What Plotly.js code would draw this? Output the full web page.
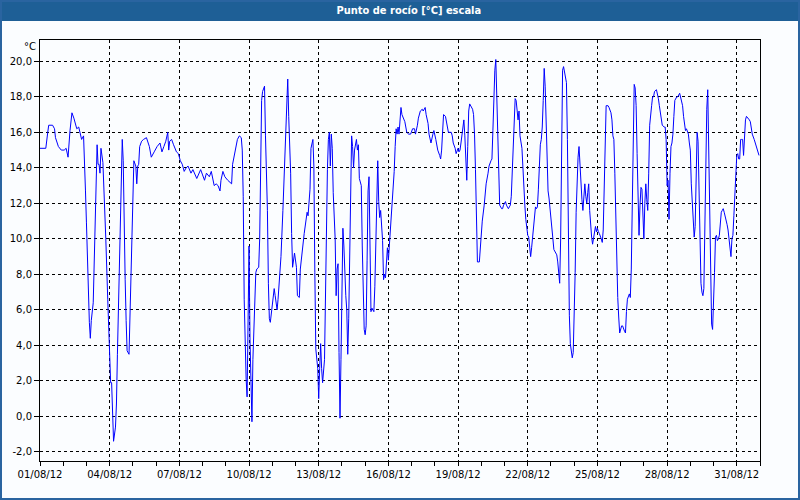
<!DOCTYPE html>
<html>
<head>
<meta charset="utf-8">
<script src="https://cdn.plot.ly/plotly-3.0.1.min.js"></script>
<style>
html,body{margin:0;padding:0;background:#fbfdff;}
#chart{width:800px;height:500px;}
</style>
</head>
<body>
<div id="chart"></div>
<script>
// Hours elapsed since 01/08/12 00:00
const hours = [
0,6,8,9,13,15,16,19,22,25,27,29,31,33,35,38,40,42,43,45,46,47,48,49,50,51,52,53,55,56,57,58,59,60,61,62,63,65,66,68,70,71,72,73,74,75,76,78,79,80,81,82,83,84,85,86,87,88,89,90,92,93,94,95,96,97,99,100,101,102,103,105,107,110,113,115,118,121,124,126,128,130,132,133,134,136,138,141,143,145,147,
149,151,153,156,158,162,164,166,168,170,172,175,177,180,182,184,186,187,189,191,194,198,199,201,202,204,206,208,209,210,211,212,213,214,215,216,217,218,219,220,221,222,223,224,226,227,228,229,230,232,233,235,236,237,238,239,241,242,243,245,246,248,249,251,253,254,255,256,257,259,260,261,263,265,266,268,269,271,273,276,277,279,280,282,283,284,285,287,288,289,290,291,292,294,295,296,
297,298,299,300,301,302,303,305,306,307,308,309,310,311,312,313,314,315,316,317,318,319,320,321,322,323,324,325,327,328,329,330,332,333,334,335,336,337,338,339,340,341,342,343,345,346,347,348,349,350,351,352,354,355,356,357,358,359,360,361,362,364,365,366,367,368,369,370,371,372,373,374,376,377,379,381,383,385,387,388,390,391,393,395,396,398,399,401,402,403,404,406,407,409,410,411,413,414,415,416,417,419,420,421,422,425,426,427,429,430,432,433,434,435,437,438,439,440,441,442,443,444,446,
447,448,449,450,451,452,454,455,456,457,459,460,461,463,464,466,467,468,469,470,471,472,473,474,475,477,478,479,481,482,484,485,486,487,488,490,491,492,493,494,495,496,498,499,500,501,502,503,504,505,506,507,508,509,511,512,513,514,515,516,517,518,519,520,521,522,523,524,525,526,527,528,529,530,531,533,534,535,536,537,538,539,540,541,542,543,544,545,546,547,548,549,550,551,552,553,554,555,556,557,558,559,560,561,562,563,564,565,566,567,568,569,570,571,572,573,574,575,576,577,578,580,581,582,583,584,585,587,588,590,591,592,
593,594,595,596,597,598,599,601,602,604,605,606,607,609,610,611,612,613,614,615,616,617,618,619,620,621,622,623,624,625,626,627,628,629,630,632,633,634,635,637,638,639,640,642,643,645,646,647,648,649,650,651,652,653,654,655,656,658,659,661,662,664,665,666,667,668,670,671,672,673,674,675,676,677,678,679,680,681,682,683,684,685,686,687,688,689,690,691,692,693,694,695,696,697,698,699,700,701,702,703,704,705,706,707,708,709,710,711,712,713,714,715,716,717,718,719,720,721,722,723,724,725,726,727,728,729,730,732,733,734,735,736,738,739,740,742,743
];
// Dew point, °C
const dewPoint = [
15.1,15.1,16.0,16.4,16.4,16.2,15.7,15.2,15.0,15.0,15.1,14.6,16.1,17.1,16.8,16.2,16.3,15.9,15.6,15.8,14.6,12.7,10.9,8.9,6.7,5.3,4.4,5.4,6.4,8.9,10.9,14.2,15.3,14.2,14.2,13.7,15.1,14.3,12.4,10.0,6.6,5.3,3.8,1.9,1.9,0.0,-1.4,-0.6,0.7,3.5,6.3,7.7,11.1,14.7,15.6,14.4,9.5,7.7,5.4,3.7,3.5,5.8,7.5,10.9,13.5,14.4,14.1,13.1,14.1,14.2,15.2,15.5,15.6,15.7,15.2,14.6,14.9,15.2,15.4,14.9,15.2,15.5,16.0,15.0,15.5,15.6,15.3,14.9,14.8,14.4,14.2,
13.8,14.0,14.1,13.7,13.9,13.4,13.7,13.9,13.6,13.3,13.7,13.5,13.8,13.0,13.1,13.0,12.7,13.3,13.8,13.5,13.3,13.1,14.2,14.8,15.1,15.6,15.8,15.7,15.0,12.4,6.6,3.4,2.1,1.1,5.3,9.6,4.3,1.3,-0.3,3.2,5.3,6.2,8.1,8.3,8.4,10.0,14.6,17.8,18.3,18.6,15.8,11.6,7.5,5.5,5.3,5.8,7.0,7.2,6.8,6.0,6.6,8.3,9.0,11.6,14.6,16.7,18.5,19.0,16.9,13.7,10.3,8.4,9.2,8.4,6.8,6.7,8.3,9.4,10.3,11.5,11.3,12.8,15.1,15.6,14.1,8.1,3.8,2.7,1.0,2.7,4.1,2.7,1.9,3.2,7.3,11.5,
13.9,15.6,16.0,14.1,15.9,15.1,12.6,10.0,6.8,8.3,8.6,3.6,-0.1,3.2,6.4,10.6,9.6,7.7,6.8,6.0,3.5,5.5,10.0,12.8,15.8,15.2,14.0,15.0,15.6,15.0,15.3,13.4,13.0,9.6,7.3,4.9,4.6,5.1,8.8,12.7,13.5,9.6,5.9,6.1,5.9,7.3,9.7,13.7,14.4,12.1,11.2,11.6,9.9,7.7,8.0,7.8,8.7,9.5,8.8,9.6,10.5,11.6,12.7,13.8,15.2,16.2,15.9,16.3,15.9,17.0,17.4,17.0,16.7,16.6,16.0,15.9,15.9,16.2,16.2,15.9,16.4,16.8,17.2,17.3,17.2,17.4,17.0,16.5,15.9,15.7,15.4,15.9,16.1,15.6,15.3,15.0,14.7,14.5,15.0,16.1,17.0,16.9,16.6,16.2,16.0,16.0,15.8,15.4,15.1,14.8,15.1,14.9,15.0,15.4,16.1,16.7,15.8,14.6,13.3,15.2,17.2,17.6,17.4,
17.3,17.0,15.9,13.9,10.9,8.7,8.7,9.5,10.4,11.0,11.9,12.4,13.1,13.7,14.1,14.4,14.5,16.1,18.4,19.5,20.1,18.0,16.0,13.5,11.9,11.7,11.7,11.9,12.1,11.9,11.7,11.8,11.9,12.4,14.1,16.7,17.9,17.8,17.2,16.7,17.2,15.8,15.1,13.7,12.6,11.9,11.1,10.5,10.2,10.1,9.6,9.0,9.5,10.1,10.9,11.8,11.7,11.8,12.8,14.5,15.3,15.6,16.3,17.8,19.6,18.6,16.7,15.0,12.7,12.3,11.6,11.0,10.5,10.0,9.4,9.2,9.1,8.7,7.9,7.5,10.0,15.6,19.5,19.7,19.4,19.0,18.8,15.6,10.0,5.7,4.1,3.6,3.3,3.6,5.3,8.1,11.5,13.9,14.6,15.2,13.9,12.8,12.2,11.6,12.2,13.1,12.4,12.0,12.6,13.1,11.6,10.7,10.1,9.7,10.1,10.5,10.7,10.4,10.6,10.4,10.3,10.0,9.8,10.5,13.0,16.0,17.5,17.5,17.4,17.1,16.7,15.8,
15.6,13.7,10.9,8.7,6.7,5.6,4.7,5.1,5.1,4.8,4.7,5.9,6.6,6.9,6.7,8.3,11.8,16.0,18.7,18.5,17.5,14.8,11.8,10.2,11.9,12.9,12.8,11.3,10.0,12.0,13.1,12.2,11.6,13.7,16.4,17.5,18.0,18.0,18.3,18.4,18.2,17.9,17.5,16.9,16.4,16.3,16.3,15.6,13.0,13.3,11.1,13.7,15.2,15.4,15.9,16.9,17.8,18.0,18.0,18.2,18.0,17.5,16.9,16.4,16.1,16.2,15.9,15.4,15.0,13.1,11.8,10.9,10.1,10.7,13.7,16.0,15.5,13.0,10.3,7.5,7.0,6.8,7.2,10.3,15.6,17.3,18.4,15.0,10.7,7.3,5.2,4.9,6.2,8.1,10.1,10.2,9.9,10.0,10.2,10.9,11.5,11.6,11.7,11.5,11.3,11.1,10.8,10.5,10.0,9.4,9.0,10.0,10.2,11.3,12.4,13.6,14.7,14.8,14.5,14.5,15.6,15.6,15.6,14.7,15.6,16.7,16.9,16.8,16.7,16.6,16.2,15.9,15.6,15.4,15.2,14.9,14.7
];
const xTickHours = [0,72,144,216,288,360,432,504,576,648,720];
const xTickLabels = ['01/08/12','04/08/12','07/08/12','10/08/12','13/08/12','16/08/12','19/08/12','22/08/12','25/08/12','28/08/12','31/08/12'];
const yTickVals = [-2,0,2,4,6,8,10,12,14,16,18,20];
const yTickLabels = ['-2,0','0,0','2,0','4,0','6,0','8,0','10,0','12,0','14,0','16,0','18,0','20,0'];
const titleText = 'Punto de rocío [°C] escala';
const unitText = '°C';

const L = 40, R = 40, T = 40, B = 39;
const PW = 800 - L - R, PH = 500 - T - B;
const px = v => (v - L) / PW;            // pixel x -> paper x
const py = v => (500 - B - v) / PH;      // pixel y -> paper y

const trace = {
  x: hours, y: dewPoint, type: 'scatter', mode: 'lines',
  line: {color: '#0000ff', width: 1}, hoverinfo: 'x+y'
};

const axisFont = {family: 'DejaVu Sans, Verdana, sans-serif', size: 10, color: '#000'};

const layout = {
  width: 800, height: 500,
  margin: {l: L, r: R, t: T, b: B, pad: 0},
  paper_bgcolor: '#fbfdff', plot_bgcolor: '#fbfdff',
  showlegend: false,
  title: {
    text: titleText, x: 0.511, xref: 'container', xanchor: 'center',
    y: 1 - 10.5 / 500, yref: 'container', yanchor: 'middle',
    font: {family: 'DejaVu Sans Condensed, DejaVu Sans, sans-serif', size: 11, color: '#ffffff', weight: 'bold'}
  },
  xaxis: {
    range: [0, 744], tickmode: 'array', tickvals: xTickHours, ticktext: xTickLabels,
    showline: true, linecolor: '#000', linewidth: 1, mirror: true,
    ticks: 'outside', ticklen: 4, tickcolor: '#000', tickwidth: 1,
    showgrid: true, gridcolor: '#000', gridwidth: 1, griddash: '3px,3px',
    zeroline: false, tickfont: axisFont,
    minor: {tickmode: 'linear', tick0: 0, dtick: 24, ticks: 'outside', ticklen: 4, tickcolor: '#000', showgrid: false}
  },
  yaxis: {
    range: [-2.51, 21.2], tickmode: 'array', tickvals: yTickVals, ticktext: yTickLabels,
    showline: true, linecolor: '#000', linewidth: 1, mirror: true,
    ticks: 'outside', ticklen: 5, tickcolor: '#000', tickwidth: 1,
    showgrid: true, gridcolor: '#000', gridwidth: 1, griddash: '3px,3px',
    zeroline: false, tickfont: axisFont
  },
  shapes: [
    {type: 'rect', xref: 'paper', yref: 'paper', x0: px(0), x1: px(800), y0: py(21), y1: py(0),
     fillcolor: '#1e5f96', line: {width: 0}, layer: 'below'},
    {type: 'rect', xref: 'paper', yref: 'paper', x0: px(1), x1: px(799), y0: py(499), y1: py(1),
     fillcolor: 'rgba(0,0,0,0)', line: {color: '#2a64a0', width: 2}, layer: 'above'}
  ],
  annotations: [
    {text: unitText, xref: 'paper', yref: 'paper', x: px(38), y: py(46), xanchor: 'right', yanchor: 'middle',
     showarrow: false, font: axisFont}
  ]
};

Plotly.newPlot('chart', [trace], layout, {displayModeBar: false, staticPlot: true});
</script>
</body>
</html>
